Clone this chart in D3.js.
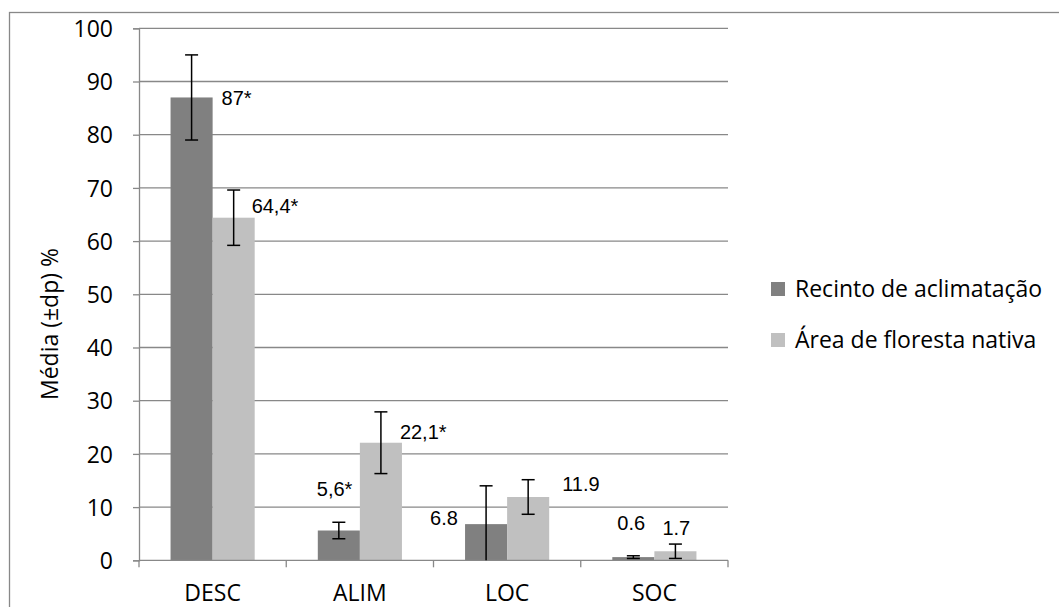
<!DOCTYPE html>
<html><head><meta charset="utf-8">
<script src="https://cdn.jsdelivr.net/npm/d3@7"></script>
<style>body{margin:0;background:#fff}svg{display:block}</style>
</head><body>
<svg id="c" width="1059" height="607"></svg>
<script>
const categories = ["DESC", "ALIM", "LOC", "SOC"];
const seriesNames = ["Recinto de aclimatação", "Área de floresta nativa"];
const recintoValues = [87, 5.6, 6.8, 0.6];
const recintoErrors = [8, 1.55, 7.2, 0.25];
const florestaValues = [64.4, 22.1, 11.9, 1.7];
const florestaErrors = [5.2, 5.8, 3.25, 1.35];
const recintoLabels = ["87*", "5,6*", "6.8", "0.6"];
const florestaLabels = ["64,4*", "22,1*", "11.9", "1.7"];
const yTicks = [0, 10, 20, 30, 40, 50, 60, 70, 80, 90, 100];
const colors = ["#808080", "#c0c0c0"];
// label offsets (px) relative to bar left edge and bar top
const recintoLabelOffsets = [[51, 7.5], [-1, -35], [-35, 1], [5, -27]];
const florestaLabelOffsets = [[39, -5], [40, -3.4], [55, -6], [8, -16]];

(function () {
const svg = d3.select("#c");
const pLeft = 139, pRight = 728, pTop = 28.3, pBottom = 560.3;
const tickFont = "'Open Sans', Lato, sans-serif";
const labelFont = "'Liberation Sans', Arial, sans-serif";
const fs = 23;

svg.append("rect").attr("x", 9.5).attr("y", 12.5).attr("width", 1100).attr("height", 700)
  .attr("fill", "none").attr("stroke", "#888").attr("stroke-width", 1.3);

const y = d3.scaleLinear().domain([0, 100]).range([pBottom, pTop]);
const x0 = d3.scaleBand().domain(categories).range([pLeft, pRight]).paddingInner(0).paddingOuter(0);
const bw = x0.bandwidth() / 3.5;
const x1 = d3.scaleBand().domain([0, 1]).range([bw * 0.75, bw * 2.75]);

svg.append("g").selectAll("line").data(yTicks.filter(d => d > 0)).join("line")
  .attr("x1", pLeft).attr("x2", pRight).attr("y1", d => y(d)).attr("y2", d => y(d))
  .attr("stroke", "#888").attr("stroke-width", 1.3);

const yAxis = svg.append("g").attr("transform", `translate(${pLeft},0)`)
  .call(d3.axisLeft(y).tickValues(yTicks).tickSize(6).tickPadding(20));
yAxis.select(".domain").attr("stroke", "#888").attr("stroke-width", 1.3);
yAxis.selectAll(".tick line").attr("stroke", "#888").attr("stroke-width", 1.3);
yAxis.selectAll(".tick text").attr("font-family", tickFont).attr("font-size", fs).attr("fill", "#000").attr("dy", "0.36em");

const series = [
  {vals: recintoValues, errs: recintoErrors, labels: recintoLabels, offs: recintoLabelOffsets},
  {vals: florestaValues, errs: florestaErrors, labels: florestaLabels, offs: florestaLabelOffsets}
];
series.forEach((s, si) => {
  const g = svg.append("g");
  g.selectAll("rect").data(categories).join("rect")
    .attr("x", c => x0(c) + x1(si)).attr("width", x1.bandwidth())
    .attr("y", (c, i) => y(s.vals[i])).attr("height", (c, i) => pBottom - y(s.vals[i]))
    .attr("fill", colors[si]);
});

svg.append("line").attr("x1", pLeft).attr("x2", pRight).attr("y1", pBottom).attr("y2", pBottom)
  .attr("stroke", "#888").attr("stroke-width", 1.3);
const bounds = categories.map(c => x0(c)).concat([pRight]);
svg.append("g").selectAll("line").data(bounds).join("line")
  .attr("x1", d => d).attr("x2", d => d).attr("y1", pBottom).attr("y2", pBottom + 7)
  .attr("stroke", "#888").attr("stroke-width", 1.3);
svg.append("g").selectAll("text").data(categories).join("text")
  .attr("x", c => x0(c) + x0.bandwidth() / 2).attr("y", 601)
  .attr("text-anchor", "middle").attr("font-family", tickFont).attr("font-size", fs).text(c => c);

series.forEach((s, si) => {
  const g = svg.append("g");
  categories.forEach((c, i) => {
    const cx = x0(c) + x1(si) + x1.bandwidth() / 2;
    const hi = y(s.vals[i] + s.errs[i]);
    const lo = y(Math.max(0, s.vals[i] - s.errs[i]));
    g.append("line").attr("x1", cx).attr("x2", cx).attr("y1", hi).attr("y2", lo).attr("stroke", "#000").attr("stroke-width", 1.5);
    g.append("line").attr("x1", cx - 6.5).attr("x2", cx + 6.5).attr("y1", hi).attr("y2", hi).attr("stroke", "#000").attr("stroke-width", 1.5);
    if (s.vals[i] - s.errs[i] > 0)
      g.append("line").attr("x1", cx - 6.5).attr("x2", cx + 6.5).attr("y1", lo).attr("y2", lo).attr("stroke", "#000").attr("stroke-width", 1.5);
    g.append("text").attr("x", x0(c) + x1(si) + s.offs[i][0]).attr("y", y(s.vals[i]) + s.offs[i][1])
      .attr("font-family", labelFont).attr("font-size", 20).text(s.labels[i]);
  });
});

svg.append("text").attr("transform", "translate(58,324) rotate(-90)")
  .attr("text-anchor", "middle").attr("font-family", tickFont).attr("font-size", fs).text("Média (±dp) %");

const lg = svg.append("g");
seriesNames.forEach((n, i) => {
  lg.append("rect").attr("x", 771).attr("y", 282 + i * 51).attr("width", 14).attr("height", 14).attr("fill", colors[i]);
  lg.append("text").attr("x", 795).attr("y", 297 + i * 51).attr("font-family", tickFont).attr("font-size", fs).text(n);
});
})();
</script>
</body></html>
